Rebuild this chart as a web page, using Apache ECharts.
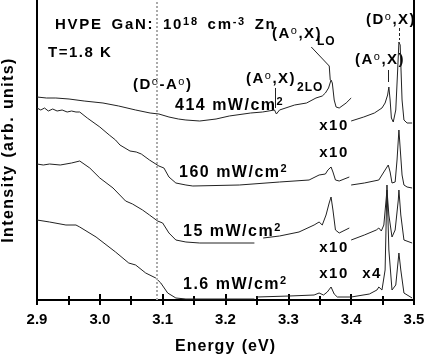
<!DOCTYPE html>
<html>
<head>
<meta charset="utf-8">
<script src="https://cdn.jsdelivr.net/npm/echarts@6/dist/echarts.min.js"></script>
<style>
  html, body { margin: 0; padding: 0; background: #fff; }
  #chart { width: 427px; height: 354px; }
</style>
</head>
<body>
<div id="chart"></div>
<script>
// x: energy (eV), y: intensity (arb. units, spectra offset vertically)
var xTicks = [2.9, 3.0, 3.1, 3.2, 3.3, 3.4, 3.5];
var yRange = [0, 300];
var dapEnergy = 3.094;   // (D0-A0) dotted marker

// 414 mW/cm2
var pl414 = [[2.900,203],[2.915,202],[2.930,202],[2.951,201],[2.975,199],[3.005,197],[3.030,194],[3.057,190],[3.080,187],[3.094,186],[3.110,183],[3.125,181],[3.137,180],[3.159,179],[3.185,181],[3.206,184],[3.240,187],[3.259,188],[3.278,190],[3.281,186],[3.286,190],[3.310,195],[3.329,197],[3.344,202],[3.354,204],[3.359,207],[3.364,212],[3.368,220],[3.370,217],[3.373,200],[3.376,193],[3.381,192],[3.392,197],[3.400,202]];
var pl414Exc = [[3.400,179],[3.420,183],[3.437,187],[3.449,192],[3.454,197],[3.458,205],[3.460,213],[3.462,200],[3.464,182],[3.467,178],[3.471,190],[3.474,230],[3.476,258],[3.478,255],[3.481,200],[3.484,180],[3.489,177],[3.497,177]];

// 160 mW/cm2
var pl160 = [[2.900,192],[2.906,190],[2.912,192],[2.918,189],[2.925,191],[2.932,189],[2.940,190],[2.948,188],[2.955,189],[2.962,188],[2.968,188],[2.980,182],[3.000,173],[3.015,165],[3.025,160],[3.032,155],[3.048,149],[3.058,148],[3.066,146],[3.079,140],[3.094,134],[3.102,132],[3.110,123],[3.121,117],[3.137,115],[3.148,114],[3.222,115],[3.286,118],[3.333,120],[3.349,125],[3.359,126],[3.363,130],[3.368,133],[3.371,128],[3.375,120],[3.381,119],[3.397,123]];
var pl160Exc = [[3.400,115],[3.421,117],[3.444,120],[3.452,128],[3.459,135],[3.462,128],[3.465,117],[3.470,118],[3.473,140],[3.476,170],[3.478,168],[3.481,125],[3.484,115],[3.489,113],[3.497,112]];

// 15 mW/cm2
var pl15 = [[2.900,136],[2.910,135],[2.920,136],[2.937,135],[2.955,137],[2.968,139],[2.984,132],[3.000,122],[3.021,112],[3.041,99],[3.052,96],[3.068,90],[3.079,85],[3.092,79],[3.100,77],[3.110,67],[3.121,60],[3.137,58],[3.159,57],[3.246,57]];
var pl15x10 = [[3.260,62],[3.286,64],[3.317,68],[3.341,75],[3.349,78],[3.354,75],[3.360,85],[3.365,97],[3.368,103],[3.371,90],[3.375,70],[3.381,67],[3.397,72]];
var pl15Exc = [[3.400,60],[3.421,65],[3.440,70],[3.444,72],[3.448,69],[3.452,75],[3.457,110],[3.460,85],[3.465,63],[3.470,70],[3.475,100],[3.476,110],[3.479,85],[3.484,60],[3.497,57]];

// 1.6 mW/cm2
var pl16 = [[2.900,80],[2.920,78],[2.946,75],[2.962,75],[2.968,73],[2.994,63],[3.025,48],[3.046,37],[3.057,35],[3.073,27],[3.089,22],[3.097,17],[3.108,7],[3.121,2],[3.137,1],[3.246,1]];
var pl16x10 = [[3.249,3],[3.302,4],[3.341,5],[3.349,7],[3.356,5],[3.362,8],[3.368,13],[3.373,6],[3.378,3],[3.400,3]];
var pl16Exc = [[3.400,3],[3.429,6],[3.441,10],[3.444,13],[3.449,10],[3.454,30],[3.457,115],[3.460,50],[3.465,10],[3.471,15],[3.476,47],[3.479,30],[3.484,7],[3.497,2]];

// leader lines for the peak labels [from, to]
var leaders = [
  [[3.3365,253],[3.3651,234]],
  [[3.3651,234],[3.3667,220]],
  [[3.2794,212],[3.2794,192]],
  [[3.4587,230],[3.4587,218]]
];
var d0xLeader = [[3.4762,272],[3.4762,260]];

var FONT = 'Liberation Sans, Arial, sans-serif';

function line(data, extra) {
  var s = {
    type: 'line',
    data: data,
    showSymbol: false,
    symbol: 'none',
    lineStyle: { color: '#222', width: 1 },
    silent: true
  };
  return Object.assign(s, extra || {});
}

// letter-spaced text: every character becomes its own rich token, spaces get a wider one
function spaced(parts) {
  return parts.map(function (p) {
    return p[1].split('').map(function (ch) {
      return '{' + (ch === ' ' ? 'w' : p[0]) + '|' + ch + '}';
    }).join('');
  }).join('');
}

function richSet(size, supSize, sp, wide) {
  var base = { fontFamily: FONT, fontWeight: 'bold', fill: '#000', color: '#000' };
  return {
    n: Object.assign({}, base, { fontSize: size, lineHeight: size + 3, padding: [0, sp, 0, 0] }),
    w: Object.assign({}, base, { fontSize: size, lineHeight: size + 3, padding: [0, sp + (wide || 0), 0, 0] }),
    s: Object.assign({}, base, { fontSize: supSize, lineHeight: supSize, verticalAlign: 'top', padding: [0, sp, 0, 0] }),
    o: Object.assign({}, base, { fontWeight: 'normal', fontSize: supSize, lineHeight: supSize, verticalAlign: 'top', padding: [0, sp, 0, 0] })
  };
}

function txt(x, y, parts, size, supSize, sp, align, wide) {
  return {
    type: 'text',
    x: x, y: y,
    silent: true,
    style: {
      text: spaced(parts),
      fontFamily: FONT,
      fontWeight: 'bold',
      fontSize: size,
      fill: '#000',
      align: align || 'left',
      verticalAlign: 'middle',
      rich: richSet(size, supSize, sp, wide)
    }
  };
}

var chart = echarts.init(document.getElementById('chart'), null, { renderer: 'canvas' });

var option = {
  animation: false,
  backgroundColor: '#fff',
  grid: { left: 37, right: 13, top: 0, bottom: 54, containLabel: false, outerBoundsMode: 'none' },
  xAxis: [{
    type: 'value',
    min: xTicks[0], max: xTicks[xTicks.length - 1], interval: 0.1,
    name: spaced([['n', 'Energy (eV)']]), nameLocation: 'middle', nameGap: 37,
    nameTextStyle: { rich: richSet(16, 11, 1, 1) },
    axisLine: { show: true, lineStyle: { color: '#000', width: 2 } },
    axisTick: { show: true, inside: true, length: 6, lineStyle: { color: '#000', width: 2 } },
    minorTick: { show: true, splitNumber: 2, length: 4, lineStyle: { color: '#000', width: 2 } },
    axisLabel: {
      margin: 12, fontFamily: FONT, fontWeight: 'bold', fontSize: 15, color: '#000',
      formatter: function (v) { return v.toFixed(1); }
    },
    splitLine: { show: false }
  }, {
    type: 'value', position: 'top',
    min: xTicks[0], max: xTicks[xTicks.length - 1], interval: 0.1,
    axisLine: { show: false },
    axisTick: { show: true, inside: true, length: 5, lineStyle: { color: '#000', width: 2 } },
    minorTick: { show: true, splitNumber: 2, length: 5, lineStyle: { color: '#000', width: 2 } },
    axisLabel: { show: false },
    splitLine: { show: false }
  }],
  yAxis: [{
    type: 'value', min: yRange[0], max: yRange[1],
    name: spaced([['n', 'Intensity (arb. units)']]), nameLocation: 'middle', nameGap: 19, nameRotate: 90,
    nameTextStyle: { rich: richSet(16, 11, 1.4, 1) },
    axisLine: { show: true, lineStyle: { color: '#000', width: 2 } },
    axisTick: { show: false }, axisLabel: { show: false }, splitLine: { show: false }
  }, {
    type: 'value', position: 'right', min: yRange[0], max: yRange[1],
    axisLine: { show: true, lineStyle: { color: '#000', width: 2 } },
    axisTick: { show: false }, axisLabel: { show: false }, splitLine: { show: false }
  }],
  series: [
    line(pl414, {
      markLine: {
        silent: true, symbol: ['none', 'none'], label: { show: false },
        lineStyle: { type: [2, 2], color: '#aaa', width: 2 },
        data: [{ xAxis: dapEnergy }]
      }
    }),
    line(pl414Exc),
    line(pl160),
    line(pl160Exc),
    line(pl15),
    line(pl15x10),
    line(pl15Exc),
    line(pl16),
    line(pl16x10),
    line(pl16Exc),
    {
      type: 'line', data: [], silent: true,
      markLine: {
        silent: true, symbol: ['none', 'none'], label: { show: false },
        lineStyle: { type: 'solid', color: '#222', width: 1 },
        data: leaders.map(function (p) { return [{ coord: p[0] }, { coord: p[1] }]; })
          .concat([[{ coord: d0xLeader[0], lineStyle: { type: [3, 2] } }, { coord: d0xLeader[1] }]])
      }
    }
  ],
  graphic: { elements: [
    txt(55, 25, [['n', 'HVPE GaN: 10'], ['s', '18'], ['n', ' cm'], ['s', '-3'], ['n', ' Zn']], 15, 11, 1.7, 'left', 3),
    txt(48, 53, [['n', 'T=1.8 K']], 15, 10, 1.5),
    txt(133, 85, [['n', '(D'], ['o', 'o'], ['n', '-A'], ['o', 'o'], ['n', ')']], 15, 11, 1.5),
    txt(175, 106, [['n', '414 mW/cm'], ['s', '2']], 16, 11, 1.5),
    txt(179, 173, [['n', '160 mW/cm'], ['s', '2']], 16, 11, 1.5),
    txt(183, 232, [['n', '15 mW/cm'], ['s', '2']], 16, 11, 1.5),
    txt(183, 285, [['n', '1.6 mW/cm'], ['s', '2']], 16, 11, 1.5),
    txt(246, 79, [['n', '(A'], ['o', 'o'], ['n', ',X)']], 15, 11, 1.5),
    txt(297, 88, [['n', '2LO']], 12, 9, 1),
    txt(272, 34, [['n', '(A'], ['o', 'o'], ['n', ',X)']], 15, 11, 1.5),
    txt(317, 42, [['n', 'LO']], 12, 9, 1),
    txt(355, 60, [['n', '(A'], ['o', 'o'], ['n', ',X)']], 15, 11, 1.5),
    txt(366, 20, [['n', '(D'], ['o', 'o'], ['n', ',X)']], 15, 11, 1.5),
    txt(334, 126, [['n', 'x10']], 15, 10, 1.5, 'center'),
    txt(334, 153, [['n', 'x10']], 15, 10, 1.5, 'center'),
    txt(334, 248, [['n', 'x10']], 15, 10, 1.5, 'center'),
    txt(334, 274, [['n', 'x10']], 15, 10, 1.5, 'center'),
    txt(372, 274, [['n', 'x4']], 15, 10, 1.5, 'center')
  ] }
};

chart.setOption(option);
</script>
</body>
</html>
